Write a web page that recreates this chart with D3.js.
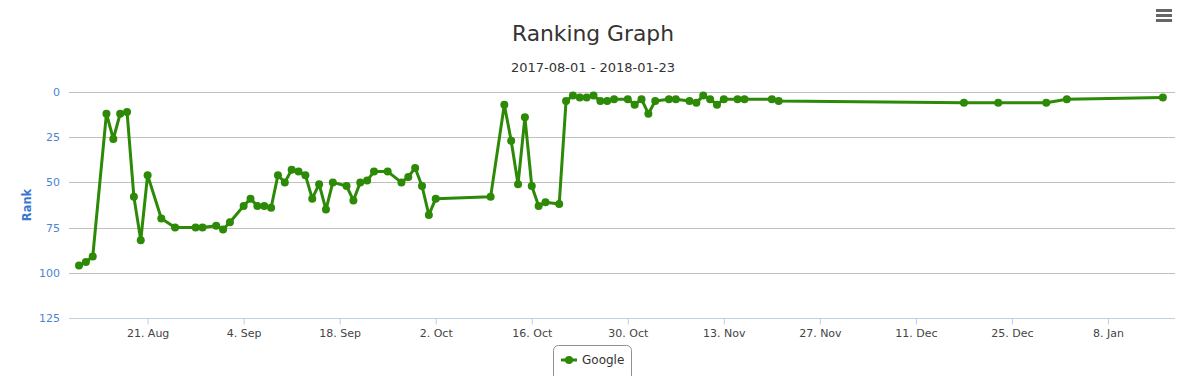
<!DOCTYPE html>
<html>
<head>
<meta charset="utf-8">
<script src="https://cdn.jsdelivr.net/npm/d3@7"></script>
<style>
  body { margin: 0; background: #fff; }
  svg { display: block; font-family: "DejaVu Sans", Verdana, sans-serif; }
</style>
</head>
<body>
<svg class="chart"></svg>
<script>
// dates of each ranking sample (2017-2018) and the rank reached that day
var dates = ["2017-08-11","2017-08-12","2017-08-13","2017-08-15","2017-08-16","2017-08-17","2017-08-18","2017-08-19","2017-08-20","2017-08-21",
  "2017-08-23","2017-08-25","2017-08-28","2017-08-29","2017-08-31","2017-09-01","2017-09-02","2017-09-04","2017-09-05","2017-09-06",
  "2017-09-07","2017-09-08","2017-09-09","2017-09-10","2017-09-11","2017-09-12","2017-09-13","2017-09-14","2017-09-15","2017-09-16",
  "2017-09-17","2017-09-19","2017-09-20","2017-09-21","2017-09-22","2017-09-23","2017-09-25","2017-09-27","2017-09-28","2017-09-29",
  "2017-09-30","2017-10-01","2017-10-02","2017-10-10","2017-10-12","2017-10-13","2017-10-14","2017-10-15","2017-10-16","2017-10-17",
  "2017-10-18","2017-10-20","2017-10-21","2017-10-22","2017-10-23","2017-10-24","2017-10-25","2017-10-26","2017-10-27","2017-10-28",
  "2017-10-30","2017-10-31","2017-11-01","2017-11-02","2017-11-03","2017-11-05","2017-11-06","2017-11-08","2017-11-09","2017-11-10",
  "2017-11-11","2017-11-12","2017-11-13","2017-11-15","2017-11-16","2017-11-20","2017-11-21","2017-12-18","2017-12-23","2017-12-30",
  "2018-01-02","2018-01-16"];
var googleRank = [96,94,91,12,26,12,11,58,82,46,
  70,75,75,75,74,76,72,63,59,63,
  63,64,46,50,43,44,46,59,51,65,
  50,52,60,50,49,44,44,50,47,42,
  52,68,59,58,7,27,51,14,52,63,
  61,62,5,2,3,3,2,5,5,4,
  4,7,4,12,5,4,4,5,6,2,
  4,7,4,4,4,4,5,6,6,6,
  4,3];
var rankTicks = [0, 25, 50, 75, 100, 125];
var seriesName = "Google";
var titleText = "Ranking Graph";
var subtitleText = "2017-08-01 - 2018-01-23";

var width = 1178, height = 376;
var plotLeft = 69, plotRight = 1175, plotTop = 92, plotBottom = 318;
var green = "#2c8a06";
var DAY = 864e5;

var parse = d3.utcParse("%Y-%m-%d");
var data = dates.map(function(d, i) { return { date: parse(d), rank: googleRank[i] }; });

var svg = d3.select(".chart")
  .attr("width", width)
  .attr("height", height);

// axis range is a little wider than the data, like the original
var x = d3.scaleUtc()
  .domain([new Date(+parse("2017-08-21") - 11.46 * DAY), new Date(+parse("2017-08-21") + 149.77 * DAY)])
  .range([plotLeft, plotRight]);

var y = d3.scaleLinear()
  .domain([0, 125])
  .range([plotTop, plotBottom]);

// title + subtitle
svg.append("text")
  .attr("x", width / 2 + 4).attr("y", 41)
  .attr("text-anchor", "middle")
  .style("font-size", "21.8px").style("fill", "#333")
  .text(titleText);

svg.append("text")
  .attr("x", width / 2 + 4).attr("y", 72)
  .attr("text-anchor", "middle")
  .style("font-size", "13px").style("fill", "#333")
  .text(subtitleText);

// hamburger menu
[0, 1, 2].forEach(function(i) {
  svg.append("rect")
    .attr("x", 1156).attr("y", 9 + i * 5).attr("width", 16).attr("height", 3)
    .attr("fill", "#666");
});

// gridlines
svg.append("g")
  .selectAll("line")
  .data(rankTicks.slice(0, -1))
  .enter().append("line")
  .attr("x1", plotLeft).attr("x2", plotRight)
  .attr("y1", d => Math.round(y(d)) + 0.5).attr("y2", d => Math.round(y(d)) + 0.5)
  .attr("stroke", "#c0c0c0");

// y labels
var yAxis = svg.append("g")
  .attr("transform", "translate(" + plotLeft + ",0)")
  .call(d3.axisLeft(y).tickValues(rankTicks).tickSize(0).tickPadding(9));
yAxis.select(".domain").remove();
yAxis.selectAll("text")
  .style("font-size", "11px").style("fill", "#4d84d2").style("font-family", "DejaVu Sans");

svg.append("text")
  .attr("transform", "translate(31," + ((plotTop + plotBottom) / 2) + ") rotate(-90)")
  .attr("text-anchor", "middle")
  .style("font-size", "11.5px").style("font-weight", "bold").style("fill", "#3a78d0")
  .text("Rank");

// x axis
var xTicks = d3.range(0, 11).map(function(i) { return new Date(+parse("2017-08-21") + i * 14 * DAY); });
var xAxis = svg.append("g")
  .attr("transform", "translate(0," + (Math.round(y(125)) + 0.5) + ")")
  .call(d3.axisBottom(x).tickValues(xTicks).tickFormat(d3.utcFormat("%-d. %b")).tickSizeOuter(0).tickSizeInner(6).tickPadding(5));
xAxis.select(".domain").attr("stroke", "#c0d0e0").attr("d", "M" + plotLeft + ",0H" + plotRight);
xAxis.selectAll(".tick line").attr("stroke", "#c0d0e0");
xAxis.selectAll("text")
  .style("font-size", "11px").style("fill", "#444").style("font-family", "DejaVu Sans");

// the series
var line = d3.line()
  .x(d => x(d.date))
  .y(d => y(d.rank));

svg.append("path")
  .datum(data)
  .attr("d", line)
  .attr("fill", "none")
  .attr("stroke", green)
  .attr("stroke-width", 3)
  .attr("stroke-linejoin", "round");

svg.append("g")
  .selectAll("circle")
  .data(data)
  .enter().append("circle")
  .attr("cx", d => x(d.date))
  .attr("cy", d => y(d.rank))
  .attr("r", 4)
  .attr("fill", green);

// legend
var legend = svg.append("g").attr("transform", "translate(553,345)");
legend.append("rect")
  .attr("x", 0.5).attr("y", 0.5).attr("width", 78).attr("height", 36).attr("rx", 5)
  .attr("fill", "#fff").attr("stroke", "#909090");
legend.append("line")
  .attr("x1", 8).attr("x2", 24).attr("y1", 15).attr("y2", 15)
  .attr("stroke", green).attr("stroke-width", 3);
legend.append("circle")
  .attr("cx", 16).attr("cy", 15).attr("r", 4).attr("fill", green);
legend.append("text")
  .attr("x", 29).attr("y", 19)
  .style("font-size", "12px").style("fill", "#333")
  .text(seriesName);
</script>
</body>
</html>
